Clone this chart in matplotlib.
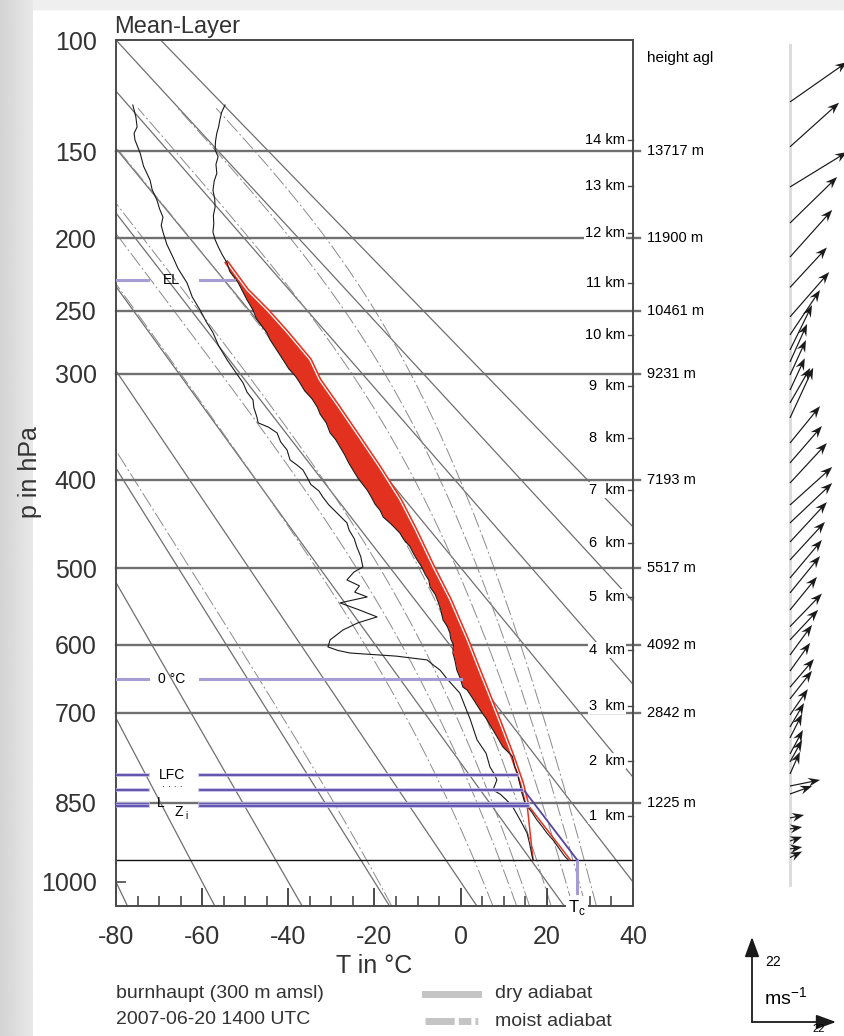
import numpy as np
import matplotlib
matplotlib.use('Agg')
import matplotlib.pyplot as plt
import matplotlib.patheffects as pe
import matplotlib.transforms as mtransforms
from matplotlib.lines import Line2D
from matplotlib.ticker import NullLocator

KAPPA = 0.286

# ---- data ----
p_ticks = [100, 150, 200, 250, 300, 400, 500, 600, 700, 850, 1000]
level_p = [150, 200, 250, 300, 400, 500, 600, 700, 850]
level_height = ['13717 m', '11900 m', '10461 m', '9231 m', '7193 m',
                '5517 m', '4092 m', '2842 m', '1225 m']
km_labels = ['14 km', '13 km', '12 km', '11 km', '10 km', '9  km', '8  km',
             '7  km', '6  km', '5  km', '4  km', '3  km', '2  km', '1  km']
km_p = [144.3, 168.8, 196.8, 230.0, 268.5, 310.7, 358.3, 411.0, 470.0,
        536.2, 607.5, 689.6, 777.8, 873.6]
p_surface = 956

# environment temperature
env_p = [127.5, 131, 134.5, 138, 140.9, 145, 149.4, 152.9, 157, 161.8, 166, 171.2,
         176, 181.1, 186, 191, 196.2, 201, 206, 211, 216.3, 222, 230.0, 236, 242,
         249.5, 256, 261, 266.7, 272, 280, 288.6, 296, 302, 308.1, 315, 322, 329.3,
         336, 344, 353.5, 360, 367.1, 375, 382, 390.1, 398, 404, 411.0, 418, 426,
         433, 440.3, 448, 458.5, 466, 474, 482, 490.1, 498, 507, 515, 523.4, 533,
         543, 553, 566.1, 575, 583.8, 592, 600, 611.6, 623, 635.9, 648, 660.9,
         665.4, 680, 695.7, 710, 727.1, 740, 754.7, 770, 788.0, 800, 810.1, 822,
         832.8, 842, 850.5, 857.7, 868, 881.2, 893, 905.3, 920, 937.4, 950, 956]
env_t = [-54.7, -55.5, -55.9, -56.2, -56.6, -56.9, -57.0, -56.3, -56.8, -56.6, -57.2,
         -57.5, -57.1, -57.0, -57.4, -57.3, -57.5, -57.0, -56.2, -55.3, -54.2, -53.6,
         -51.6, -50.6, -49.6, -48.2, -47.4, -46.3, -45.0, -44.3, -42.8, -41.2, -39.9,
         -38.4, -37.3, -36.2, -34.5, -33.3, -32.6, -31.2, -30.3, -29.0, -28.0, -26.9,
         -26.1, -25.0, -23.9, -22.9, -21.7, -20.8, -19.9, -18.7, -18.0, -16.2, -14.1,
         -13.2, -11.8, -11.0, -10.1, -9.1, -8.3, -7.4, -7.1, -5.9, -5.2, -4.6, -4.1,
         -3.1, -2.5, -2.3, -1.7, -1.8, -1.3, -0.9, -0.1, 0.5, 1.5, 3.0, 4.5, 6.0, 7.5,
         8.6, 9.8, 12.0, 12.6, 13.3, 13.5, 13.9, 14.2, 14.6, 14.9, 15.6, 16.6, 17.7,
         18.9, 20.0, 21.6, 23.1, 24.2, 24.9]

# dew point
dew_p = [127.5, 133, 137.9, 141, 144.3, 151.0, 158, 165.5, 171, 176.9, 182, 187.0,
         192, 196.2, 204, 212.3, 220, 230.0, 240, 249.5, 258, 266.7, 277, 288.6, 298,
         308.1, 316, 323.0, 330, 338.5, 344.0, 348, 353.5, 362, 370.0, 379.9, 385,
         390.1, 398, 405, 412, 418.4, 427, 435.9, 446.9, 455, 465, 474.6, 486, 498.6,
         505, 514.6, 522, 530, 536.1, 543.8, 552, 562.2, 570, 579.7, 593.3, 603.1,
         608, 611.6, 616, 621.4, 628, 635.9, 650, 670.0, 690, 710, 743.1, 765, 788.0,
         800, 810.1, 818, 827.6, 835, 845, 857.7, 870, 884, 905.4, 925, 950.3, 956]
dew_t = [-76.1, -75.4, -75.1, -75.8, -75.6, -74.4, -73.6, -72.1, -71.6, -70.5, -69.9,
         -69.1, -69.5, -69.1, -68.2, -66.8, -65.6, -63.5, -62.3, -60.5, -59.1, -57.5,
         -56.2, -54.2, -52.4, -50.5, -49.6, -48.2, -48.0, -47.3, -47.0, -44.6, -42.6,
         -41.8, -40.3, -39.6, -38.0, -36.6, -35.6, -34.8, -32.9, -32.0, -30.6, -28.7,
         -26.4, -25.9, -24.7, -24.1, -23.2, -22.7, -24.8, -26.4, -23.5, -24.6, -21.7,
         -28.0, -24.0, -19.4, -23.8, -27.3, -30.3, -30.8, -28.5, -25.7, -15.0, -7.8,
         -6.5, -4.8, -3.0, -0.2, 1.0, 2.2, 3.8, 5.9, 6.8, 7.8, 8.4, 8.0, 7.5, 9.2,
         10.6, 12.1, 13.0, 14.0, 15.4, 16.0, 16.6, 16.8]

# mean-layer parcel above the LCL
parcel_p = [216.3, 235.0, 249.5, 266.7, 288.6, 305.5, 329.3, 358.8, 387.2, 421.6,
            455.0, 498.6, 539.9, 593.3, 640.1, 665.4, 715.9, 771.1, 815.4, 852]
parcel_t = [-54.2, -49.6, -45.0, -40.3, -35.0, -32.8, -28.4, -23.4, -18.9, -14.1,
            -10.5, -6.4, -2.5, 1.5, 4.5, 6.1, 9.1, 12.1, 14.2, 15.4]
# surface parcel temperature / dew point up to the LCL
lift_t = [25.4, 15.4]
lift_td = [16.8, 15.4]
lift_p = [956, 852]
# convective temperature path
tc_t = [27.0, 27.0, 14.9]
tc_p = [1022, 956, 830]

# marked levels: (label, pressure, right end temperature)
levels_light = [('EL', 228, -52.6), ('0 °C', 649, 0.0)]
levels_dark = [('LFC', 801, 13.0), ('', 827, 14.2), ('', 852, 15.6), ('', 856, 15.6)]

# wind profile (m/s)
wind_p = [126.1, 147.8, 169.4, 190.6, 212.3, 233.1, 254.7, 268.5, 280.5, 290.3, 301.3,
          314.3, 325.7, 339.4, 363.2, 382.9, 403.6, 427.1, 447.0, 468.9, 490.1, 512.2,
          531.0, 553.0, 575.2, 593.3, 614.4, 637.4, 661.2, 678.8, 703.5, 722.4, 739.9,
          766.2, 779.5, 799.9, 820.6, 834.6, 877.6, 897.7, 920.3, 935.4, 952]
wind_u = [15.0, 12.9, 15.0, 12.4, 11.1, 9.7, 10.3, 7.9, 5.8, 4.5, 4.2, 3.9, 5.3, 6.1,
          7.9, 8.4, 9.7, 11.1, 11.1, 9.7, 9.2, 8.4, 7.9, 7.1, 8.4, 7.4, 5.8, 5.3, 6.3,
          5.8, 4.7, 3.7, 3.2, 3.4, 3.2, 2.6, 7.9, 5.8, 3.7, 3.2, 3.2, 3.2, 3.2]
wind_v = [10.5, 11.6, 9.2, 12.1, 12.4, 10.5, 11.8, 11.8, 11.8, 10.0, 9.2, 8.4, 9.2, 13.2,
          9.7, 9.7, 10.5, 10.0, 10.5, 10.5, 10.0, 10.0, 9.7, 8.7, 8.7, 7.9, 7.9, 7.4, 7.4,
          7.4, 6.8, 6.3, 6.3, 6.3, 5.8, 5.8, 1.6, 2.1, 0.8, 0.5, 1.1, 0.5, 1.6]

# background lines
dry_theta = np.arange(-80, 121, 20)
moist_start = [-16, 7.5, 13, 16, 21, 26, 29, 31.5]


def fwd(p):
    return np.sign(p) * np.abs(p) ** KAPPA


def inv(s):
    return np.sign(s) * np.abs(s) ** (1 / KAPPA)


def moist_adiabat(t0, p0=1049.0, p1=128.0, dp=-2.0):
    Rd, cp, Lv, eps = 287.04, 1005.7, 2.501e6, 0.622
    ps = np.arange(p0, p1, dp)
    T = t0 + 273.15
    out = []
    for p in ps:
        out.append(T)
        es = 6.112 * np.exp(17.67 * (T - 273.15) / (T - 29.65))
        rs = eps * es / (p - es)
        dTdp = (Rd * T + Lv * rs) / (p * (cp + Lv ** 2 * rs * eps / (Rd * T ** 2)))
        T = T + dTdp * dp
    return ps, np.array(out) - 273.15


plt.rcParams['font.family'] = ['Liberation Sans', 'DejaVu Sans']
plt.rcParams['axes.unicode_minus'] = False
narrow = ['Liberation Sans Narrow', 'Liberation Sans']
W, H = 845, 1036
fig = plt.figure(figsize=(W / 100, H / 100), dpi=100)

# light grey frame of the screenshot
bg = fig.add_axes([0, 0, 33 / W, 1], zorder=-5)
bg.imshow(np.linspace(0.83, 0.91, 30)[None, :], cmap='gray', vmin=0, vmax=1, aspect='auto')
bg.axis('off')
fig.add_artist(plt.Rectangle((0, 1 - 9 / H), 1, 9 / H, transform=fig.transFigure,
                             color='#efefef', zorder=-5))

ax = fig.add_axes([116 / W, 1 - 906 / H, 517 / W, 866 / H])
ax.set_yscale('function', functions=(fwd, inv))
ax.set_xlim(-80, 40)
ax.set_ylim(1049, 100)

pp = np.linspace(100, 1049, 200)
for th in dry_theta:
    tt = (th + 273.15) * (pp / 1000) ** KAPPA - 273.15
    ax.plot(tt, pp, color='#6f6f6f', lw=0.9, zorder=1)
for t0 in moist_start:
    mp, mt = moist_adiabat(t0)
    ax.plot(mt, mp, color='#8a8a8a', lw=0.7, ls=(0, (16, 3, 2, 3)), zorder=1)

for p in level_p:
    ax.plot([-80, 41.6], [p, p], color='#707070', lw=1.7, zorder=2, clip_on=False)
ax.axhline(p_surface, color='#111111', lw=1.0, zorder=2)

# CAPE area and parcel
pg = np.linspace(216.3, 852, 300)
ax.fill_betweenx(pg, np.interp(pg, env_p, env_t), np.interp(pg, parcel_p, parcel_t),
                 color='#e2321f', lw=0, zorder=3)
red = '#e8321f'
ax.plot(parcel_t, parcel_p, color='white', lw=0.9, zorder=4,
        path_effects=[pe.Stroke(linewidth=3.2, foreground=red), pe.Normal()])
ax.plot(lift_t, lift_p, color=red, lw=1.1, zorder=4)
ax.plot(lift_td, lift_p, color=red, lw=1.1, zorder=4)

ax.plot(env_t, env_p, color='#1a1a1a', lw=0.8, zorder=5)
ax.plot(dew_t, dew_p, color='#1a1a1a', lw=0.8, zorder=5)

# levels
for lab, p, tend in levels_light:
    ax.plot([-80, -72.6], [p, p], color='#a59ed5', lw=2.2, zorder=6)
    ax.plot([-60.5, tend], [p, p], color='#a59ed5', lw=2.2, zorder=6)
    ax.text(-67.2, p, lab, ha='center', va='center', fontsize=10, zorder=7)
for lab, p, tend in levels_dark:
    for seg in ([-80, -72.6], [-60.5, tend]):
        ax.plot(seg, [p, p], color='#5344a6', lw=1.2, zorder=6,
                path_effects=[pe.Stroke(linewidth=2.6, foreground='#bdb6e3'), pe.Normal()])
    if lab:
        ax.text(-67.0, p, lab, ha='center', va='center', fontsize=10, zorder=7)
ax.text(-67.0, 822, '· · · ·', ha='center', va='center', fontsize=7, zorder=7)
ax.text(-69.6, 851, 'L', ha='center', va='center', fontsize=10, zorder=7)
ax.text(-65.4, 866, 'Z', ha='center', va='center', fontsize=10, zorder=7)
ax.text(-63.6, 874, 'i', ha='center', va='center', fontsize=7, zorder=7)

ax.plot(tc_t[:2], tc_p[:2], color='#a59ed5', lw=2.2, zorder=6)
ax.plot(tc_t[1:], tc_p[1:], color='#5344a6', lw=1.3, zorder=6)
ax.text(27.0, 1052, 'T$_\\mathregular{c}$', ha='center', va='center', fontsize=12,
        zorder=10, clip_on=False, bbox=dict(fc='white', ec='none', pad=1.5))

# axes styling
for s in ax.spines.values():
    s.set_color('#4a4a4a')
    s.set_linewidth(1.4)
ax.set_yticks(p_ticks)
ax.set_yticklabels([str(p) for p in p_ticks])
ax.yaxis.set_minor_locator(NullLocator())
ax.set_xticks(np.arange(-80, 41, 20))
ax.set_xticks(np.arange(-80, 41, 5), minor=True)
ax.tick_params(axis='y', direction='in', length=7, width=1.2, color='#4a4a4a',
               labelsize=18, labelcolor='#333333', pad=14)
ax.tick_params(axis='x', which='major', direction='in', length=13, width=1.4,
               color='#4a4a4a', labelsize=18, labelcolor='#333333', pad=14)
ax.tick_params(axis='x', which='minor', direction='in', length=7, width=1.2, color='#4a4a4a')
ax.set_xlabel('T in °C', fontsize=18, color='#333333', labelpad=3)

# height annotations on the right
tr = mtransforms.blended_transform_factory(ax.transAxes, ax.transData)
for lab, p in zip(km_labels, km_p):
    ax.plot([0.99, 1.0], [p, p], color='#4a4a4a', lw=1.0, transform=tr, clip_on=False, zorder=8)
    ax.text(0.985, p, lab, transform=tr, ha='right', va='center', fontsize=10.5,
            family=narrow, zorder=8, bbox=dict(fc='white', ec='none', pad=0.6))
for lab, p in zip(level_height, level_p):
    ax.text(1.027, p, lab, transform=tr, ha='left', va='center', fontsize=10.5,
            family=narrow, clip_on=False)
fig.text(647 / W, 1 - 58 / H, 'height agl', fontsize=11, family=narrow, va='center')

fig.text(114 / W, 1 - 33 / H, 'Mean-Layer', fontsize=17, color='#333333', va='baseline')
fig.text(30 / W, 1 - 472 / H, 'p in hPa', fontsize=18, color='#333333', rotation=90,
         ha='center', va='center')
fig.text(116 / W, 1 - 993 / H, 'burnhaupt (300 m amsl)', fontsize=14, family=narrow,
         color='#333333', va='center')
fig.text(116 / W, 1 - 1020 / H, '2007-06-20 1400 UTC', fontsize=14, family=narrow,
         color='#333333', va='center')

# legend
fig.add_artist(Line2D([425 / W, 478 / W], [1 - 994 / H] * 2, lw=5, color='#c4c4c4'))
fig.add_artist(Line2D([425 / W, 478 / W], [1 - 1021 / H] * 2, lw=5, color='#c4c4c4',
                      ls=(0, (4.2, 0.6, 1.8, 0.6, 0.4, 0.6))))
fig.text(495 / W, 1 - 994 / H, 'dry adiabat', fontsize=14, family=narrow, color='#333333', va='center')
fig.text(495 / W, 1 - 1021 / H, 'moist adiabat', fontsize=14, family=narrow, color='#333333', va='center')

# wind profile
axw = fig.add_axes([740 / W, 1 - 906 / H, 105 / W, 866 / H])
axw.set_yscale('function', functions=(fwd, inv))
axw.set_ylim(1049, 100)
axw.set_xlim(-50, 55)
axw.axis('off')
axw.plot([0, 0], [102, 1006], color='#dcdcdc', lw=2.2, zorder=1)
axw.quiver(np.zeros(len(wind_p)), wind_p, wind_u, wind_v, angles='uv', scale_units='inches',
           scale=26.3, pivot='tail', units='inches', width=0.012, headwidth=7.5,
           headlength=10, headaxislength=7, color='#1a1a1a', zorder=2)

# wind scale
arr = dict(arrowstyle='-|>,head_length=0.6,head_width=0.22', lw=1.3, color='#1a1a1a',
           shrinkA=0, shrinkB=0, mutation_scale=20)
fig.add_artist(matplotlib.patches.FancyArrowPatch((752 / W, 1 - 1022 / H), (752 / W, 1 - 937 / H),
                                                  transform=fig.transFigure, **arr))
fig.add_artist(matplotlib.patches.FancyArrowPatch((752 / W, 1 - 1022 / H), (836 / W, 1 - 1022 / H),
                                                  transform=fig.transFigure, **arr))
fig.text(765 / W, 1 - 962 / H, '22', fontsize=10, family=narrow, va='center')
fig.text(764 / W, 1 - 998 / H, 'ms$^{\\mathregular{-1}}$', fontsize=14, family=narrow, va='center')
fig.text(812 / W, 1 - 1024 / H, '22', fontsize=8, family=narrow, va='top')

fig.savefig('out.png', dpi=100)
